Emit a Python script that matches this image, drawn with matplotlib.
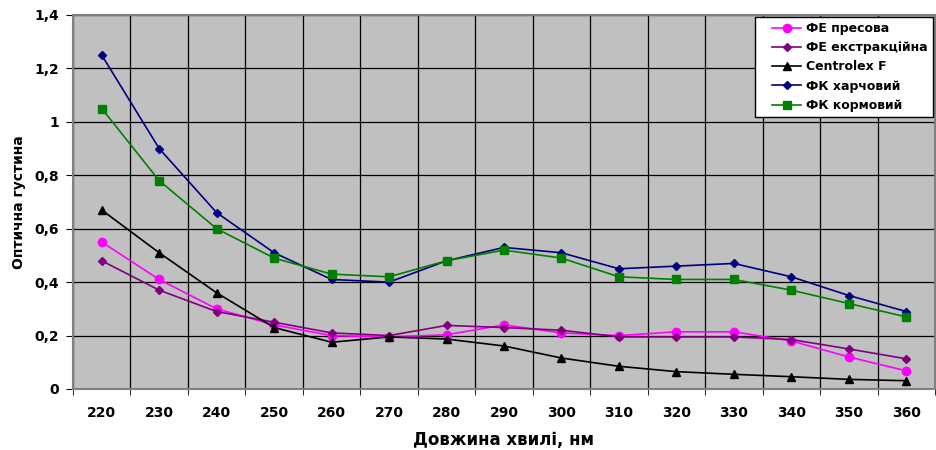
import numpy as np
import matplotlib
matplotlib.use("Agg")
import matplotlib.pyplot as plt
from matplotlib.lines import Line2D
from matplotlib.legend_handler import HandlerLine2D
from matplotlib.ticker import FixedLocator, FuncFormatter

wavelengths = [220, 230, 240, 250, 260, 270, 280, 290, 300, 310, 320, 330, 340, 350, 360]

fe_presova = [0.55, 0.41, 0.30, 0.24, 0.20, 0.195, 0.203, 0.24, 0.21, 0.20, 0.214, 0.214, 0.18, 0.12, 0.068]
fe_ekstr = [0.48, 0.37, 0.29, 0.25, 0.21, 0.20, 0.238, 0.23, 0.22, 0.195, 0.195, 0.195, 0.185, 0.15, 0.113]
centrolex = [0.67, 0.51, 0.36, 0.23, 0.175, 0.195, 0.187, 0.161, 0.116, 0.085, 0.065, 0.055, 0.046, 0.036, 0.031]
fk_harch = [1.25, 0.90, 0.66, 0.51, 0.41, 0.40, 0.48, 0.53, 0.51, 0.45, 0.46, 0.47, 0.42, 0.35, 0.29]
fk_korm = [1.05, 0.78, 0.60, 0.49, 0.43, 0.42, 0.48, 0.52, 0.49, 0.42, 0.41, 0.41, 0.37, 0.32, 0.27]

series = [
    ("ФЕ пресова", fe_presova, "#FF00FF", "o", 6),
    ("ФЕ екстракційна", fe_ekstr, "#800080", "D", 4.5),
    ("Centrolex F", centrolex, "black", "^", 6),
    ("ФК харчовий", fk_harch, "#000080", "D", 4.5),
    ("ФК кормовий", fk_korm, "#008000", "s", 5.5),
]


# legend line sits in the right part of the handle box, leaving a gap on the left
class PaddedLine(HandlerLine2D):
    def create_artists(self, legend, orig_handle, xdescent, ydescent, width, height, fontsize, trans):
        pad = 0.95 * fontsize
        return super().create_artists(legend, orig_handle, xdescent - pad, ydescent,
                                      width - pad, height, fontsize, trans)


plt.rcParams['font.family'] = ['DejaVu Sans']

fig = plt.figure(figsize=(9.37, 4.5), dpi=100)
ax = fig.add_axes([73 / 937, 61 / 450, 862 / 937, 374 / 450])
ax.set_facecolor("#C0C0C0")

x = np.arange(len(wavelengths))
for name, vals, col, mk, ms in series:
    ax.plot(x, vals, color=col, marker=mk, markersize=ms, linewidth=1.2, label=name)

ax.set_xlim(-0.5, len(wavelengths) - 0.5)
ax.set_ylim(0, 1.4)

ax.set_xticks(x)
ax.set_xticklabels([str(w) for w in wavelengths], fontsize=10, fontweight="bold")
ax.tick_params(axis="x", which="major", length=0, pad=12)
ax.xaxis.set_minor_locator(FixedLocator(np.arange(-0.5, len(wavelengths), 1)))
ax.tick_params(axis="x", which="minor", length=4, direction="out")

ax.set_yticks(np.arange(0, 1.41, 0.2))
ax.yaxis.set_major_formatter(FuncFormatter(lambda v, p: ("%g" % round(v, 1)).replace(".", ",")))
ax.tick_params(axis="y", labelsize=10, length=5, direction="out", pad=5)
for lbl in ax.get_yticklabels():
    lbl.set_fontweight("bold")

ax.grid(True, axis="y", which="major", color="black", linewidth=0.9)
ax.grid(True, axis="x", which="minor", color="black", linewidth=0.9)
ax.set_axisbelow(True)
for sp in ax.spines.values():
    sp.set_color("#808080")
    sp.set_linewidth(1.5)

ax.set_xlabel("Довжина хвилі, нм", fontsize=12, fontweight="bold", labelpad=8)
ax.set_ylabel("Оптична густина", fontsize=10, fontweight="bold", labelpad=6)

leg = ax.legend(loc="upper right", bbox_to_anchor=(1.0, 1.0), fancybox=False,
                framealpha=1, edgecolor="black", prop={"weight": "bold", "size": 9},
                handlelength=3.3, handletextpad=0.4, labelspacing=0.5, borderaxespad=0.15,
                handler_map={Line2D: PaddedLine()})
leg.get_frame().set_linewidth(1.0)

fig.savefig("out.png", dpi=100)
